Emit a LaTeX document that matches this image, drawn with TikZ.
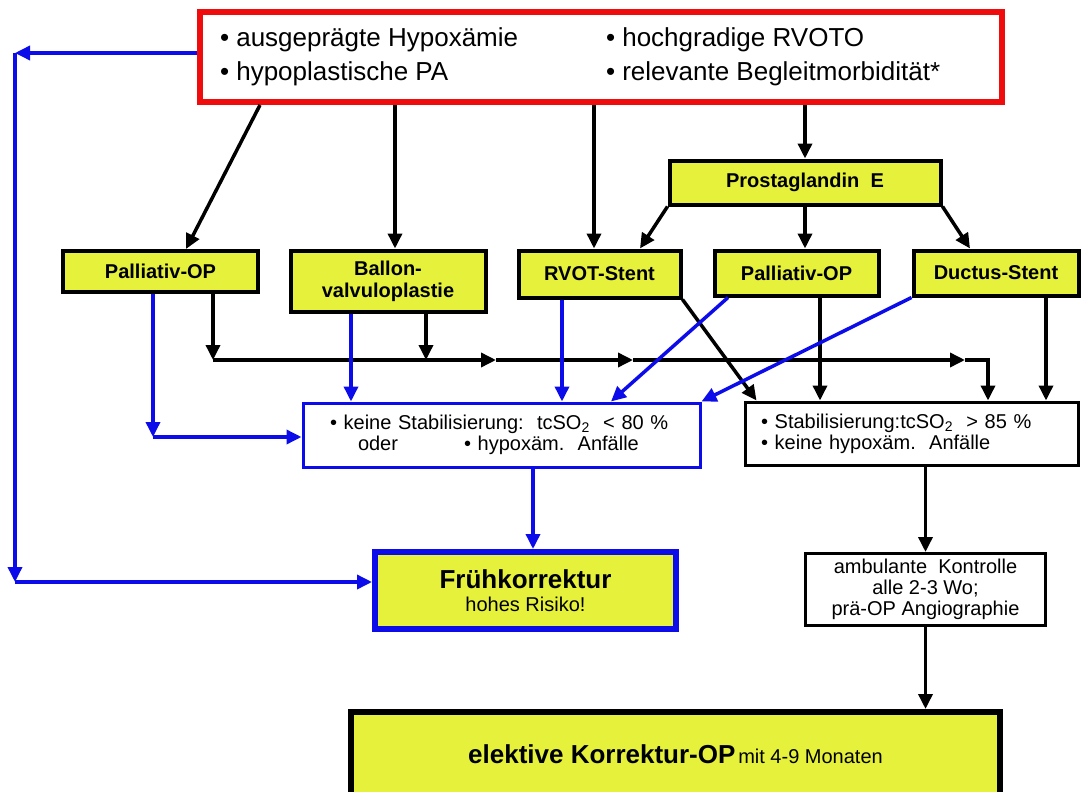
\documentclass[tikz,border=0pt]{standalone}
\usepackage{fontspec}
\setmainfont{Liberation Sans}
\usetikzlibrary{arrows.meta}
\definecolor{lemon}{RGB}{230,241,60}
\definecolor{alarmred}{RGB}{240,12,12}
\definecolor{alarmblue}{RGB}{12,12,235}

\begin{document}
\begin{tikzpicture}[x=1pt,y=-1pt]
	\tikzstyle{every node}+=[inner sep=0pt]
	\tikzstyle{riskbox}=[draw=alarmred, line width=6pt, fill=white, minimum width=802pt, minimum height=90pt, font=\fontsize{26}{34}\selectfont]
	\tikzstyle{ybox}=[draw, line width=4pt, fill=lemon, align=center, font=\fontsize{20}{22}\selectfont\bfseries]
	\tikzstyle{wbox}=[draw, line width=3pt, fill=white, align=left, font=\fontsize{20}{21}\selectfont]
	\tikzstyle{arr}=[line width=3.5pt, -{Triangle[width=14pt,length=15pt]}]
	\tikzstyle{barr}=[arr, alarmblue]
	\useasboundingbox (0,0) rectangle (1082,792);
	\node[riskbox] (risk) at (601,57) {\begin{tabular}{@{}p{386pt}@{}p{376pt}@{}}
		• ausgeprägte Hypoxämie & • hochgradige RVOTO\\
		• hypoplastische PA & • relevante Begleitmorbidität*
	\end{tabular}};
	\node[ybox, minimum width=271pt, minimum height=44pt] (prost) at (805,182.5) {Prostaglandin\ \ E};
	\node[ybox, minimum width=195pt, minimum height=41pt] (pal1) at (160.5,271.5) {Palliativ-OP};
	\node[ybox, minimum width=195pt, minimum height=61pt] (ballon) at (388,281) {Ballon-\\valvuloplastie};
	\node[ybox, minimum width=162pt, minimum height=47pt] (rvot) at (599.5,274) {RVOT-Stent};
	\node[ybox, minimum width=164pt, minimum height=45pt] (pal2) at (796.5,273) {Palliativ-OP};
	\node[ybox, minimum width=165pt, minimum height=45pt] (ductus) at (996,273) {Ductus-Stent};
	\node[wbox, draw=alarmblue, text width=343pt, inner xsep=27pt, minimum height=64pt] (instab) at (501.5,435) {• keine\ Stabilisierung:\ \ tcSO\textsubscript{2}\ \ < 80 \%\\
		\hspace*{28pt}oder\hspace{66pt}• hypoxäm.\ \ Anfälle};
	\node[wbox, text width=301pt, inner xsep=16pt, minimum height=63pt] (stabil) at (911.5,433.5) {• Stabilisierung:tcSO\textsubscript{2}\ \ > 85 \%\\
		• keine\ hypoxäm.\ \ Anfälle};
	\node[draw=alarmblue, line width=6pt, fill=lemon, minimum width=301pt, minimum height=77pt, align=center] (frueh) at (525.5,590.5) {{\fontsize{26}{30}\selectfont\bfseries Frühkorrektur}\\[7pt]
		{\fontsize{20}{24}\selectfont hohes\ Risiko!}};
	\node[wbox, align=center, minimum width=240pt, minimum height=72pt] (ambul) at (925.5,589.5) {ambulante\ \ Kontrolle\\alle\ 2-3 Wo;\\prä-OP Angiographie};
	\node[draw, line width=6pt, fill=lemon, minimum width=649pt, minimum height=84pt] (elektiv) at (675.5,754) {{\fontsize{26}{30}\selectfont\bfseries elektive Korrektur-OP} {\fontsize{20}{24}\selectfont mit 4-9 Monaten}};
	\coordinate (c1) at (15,53);
	\coordinate (c2) at (15,582);
	\coordinate (c3) at (153,437);
	\coordinate (j1) at (213,360);
	\coordinate (j2) at (426,360);
	\coordinate (m1) at (496,360);
	\coordinate (m2) at (633,360);
	\coordinate (m3) at (965,360);
	\coordinate (j3) at (988,360);
	\draw[arr] ([xshift=-341pt]risk.south) -- ([xshift=25.5pt]pal1.north);
	\draw[arr] ([xshift=-206pt]risk.south) -- ([xshift=7pt]ballon.north);
	\draw[arr] ([xshift=-7pt]risk.south) -- ([xshift=-5.5pt]rvot.north);
	\draw[arr] (risk.south -| prost.north) -- (prost.north);
	\draw[arr] (prost.south west) -- ([xshift=40.5pt]rvot.north);
	\draw[arr] (prost.south) -- (prost.south |- pal2.north);
	\draw[arr] (prost.south east) -- ([xshift=-26pt]ductus.north);
	\draw[arr] ([xshift=52.5pt]pal1.south) -- (j1);
	\draw[arr] ([xshift=38pt]ballon.south) -- (j2);
	\draw[arr] (j1) -- (m1);
	\draw[arr] (m1) -- (m2);
	\draw[arr] (m2) -- (m3);
	\draw[arr] (m3) -- (j3) -- (j3 |- stabil.north);
	\draw[arr] (rvot.south east) -- ([xshift=13pt]stabil.north west);
	\draw[arr] ([xshift=23.5pt]pal2.south) -- ([xshift=-91.5pt]stabil.north);
	\draw[arr] ([xshift=50pt]ductus.south) -- ([xshift=134.5pt]stabil.north);
	\draw[arr] (stabil.south -| ambul.north) -- (ambul.north);
	\draw[arr] (ambul.south) -- (ambul.south |- elektiv.north);
	\draw[barr] ([yshift=4pt]risk.west) -- (c1);
	\draw[barr] (c1) -- (c2);
	\draw[barr] (c2) -- (frueh.west |- c2);
	\draw[barr] ([xshift=-7.5pt]pal1.south) -- (c3);
	\draw[barr] (c3) -- (instab.west |- c3);
	\draw[barr] ([xshift=-37pt]ballon.south) -- ([xshift=-150.5pt]instab.north);
	\draw[barr] ([xshift=-37.5pt]rvot.south) -- ([xshift=60.5pt]instab.north);
	\draw[barr] ([xshift=-68.5pt]pal2.south) -- ([xshift=109.5pt]instab.north);
	\draw[barr] (ductus.south west) -- (instab.north east);
	\draw[barr] ([xshift=31.5pt]instab.south) -- ([xshift=7.5pt]frueh.north);
\end{tikzpicture}
\end{document}
